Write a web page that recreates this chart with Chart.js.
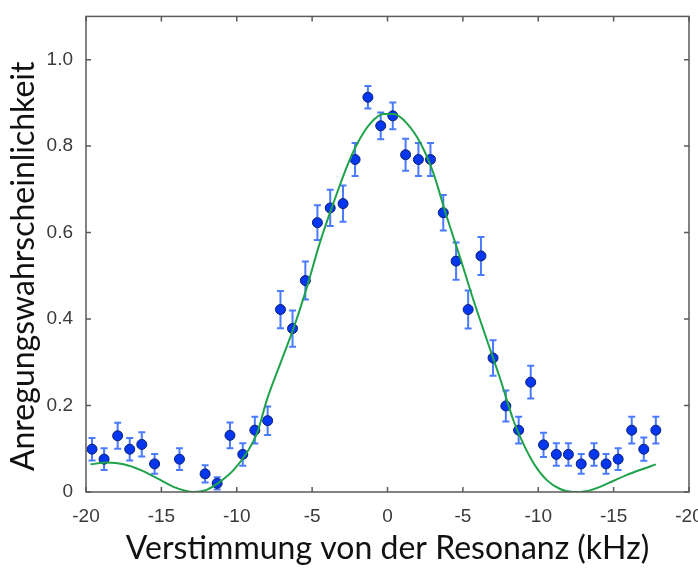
<!DOCTYPE html>
<html>
<head>
<meta charset="utf-8">
<script src="https://cdn.jsdelivr.net/npm/chart.js@4.4.1/dist/chart.umd.min.js"></script>
<style>
    html, body { margin: 0; padding: 0; background: #fff; }
    #wrap { width: 698px; height: 568px; position: relative; }
</style>
</head>
<body>
<div id="wrap"><canvas id="rabiChart"></canvas></div>
<script>
// measured excitation probability vs detuning (kHz)
const detuning = [-19.6, -18.8, -17.9, -17.1, -16.3, -15.45, -13.8, -12.1, -11.3, -10.45, -9.6, -8.8, -7.95, -7.1, -6.3, -5.45,
    -4.65, -3.8, -2.95, -2.15, -1.3, -0.45,
    0.35, 1.2, 2.05, 2.85, 3.7, 4.55, 5.35, 6.2,
    7.0, 7.85, 8.7, 9.5, 10.35, 11.2, 12.0, 12.85, 13.7, 14.5, 15.3, 16.2, 17.0, 17.8];
const probability = [0.099, 0.076, 0.130, 0.099, 0.110, 0.065, 0.076, 0.042, 0.020, 0.131, 0.087, 0.143, 0.165, 0.422, 0.378, 0.489,
    0.623, 0.657, 0.667, 0.769, 0.913, 0.847,
    0.870, 0.780, 0.769, 0.769, 0.646, 0.534, 0.422, 0.546,
    0.310, 0.199, 0.143, 0.254, 0.109, 0.087, 0.087, 0.065, 0.087, 0.065, 0.076, 0.143, 0.099, 0.143];
const errors = [0.026, 0.025, 0.030, 0.026, 0.028, 0.023, 0.025, 0.020, 0.014, 0.030, 0.026, 0.031, 0.033, 0.043, 0.042, 0.044,
    0.040, 0.042, 0.042, 0.038, 0.026, 0.031,
    0.031, 0.037, 0.038, 0.038, 0.041, 0.043, 0.044, 0.044,
    0.041, 0.036, 0.031, 0.038, 0.028, 0.026, 0.026, 0.023, 0.026, 0.023, 0.025, 0.031, 0.027, 0.031];

// fitted curve
const fitX = [-19.7, -18.6, -17.5, -16.4, -15.3, -14.2, -12.85, -12.0, -11.1, -10.2, -9.3, -8.65, -8.0, -7.1, -6.2, -5.3, -4.5,
    -3.6, -2.7, -2.0, -1.15, -0.25, 0.4, 1.3, 2.2, 3.05, 3.9, 4.8, 5.7, 6.6, 7.5, 8.35, 8.9, 9.7, 10.55, 11.45, 12.3,
    13.2, 14.1, 15.0, 15.85, 16.75, 17.8];
const fitY = [0.064, 0.068, 0.064, 0.051, 0.032, 0.012, 0.0, 0.005, 0.024, 0.051, 0.093, 0.136, 0.213, 0.298, 0.382, 0.479, 0.575,
    0.667, 0.752, 0.806, 0.852, 0.874, 0.874, 0.852, 0.806, 0.737, 0.640, 0.544, 0.444, 0.351, 0.259, 0.166, 0.120, 0.066, 0.028, 0.007, 0.0,
    0.002, 0.012, 0.026, 0.039, 0.051, 0.064];

const xTicks = [-20, -15, -10, -5, 0, 5, 10, 15, 20];
const yTicks = [0, 0.2, 0.4, 0.6, 0.8, 1.0];

const points = detuning.map((x, i) => ({ x: x, y: probability[i] }));
const fitPoints = fitX.map((x, i) => ({ x: x, y: fitY[i] }));

const errorBars = {
    id: 'errorBars',
    beforeDatasetsDraw(chart) {
        const ctx = chart.ctx;
        const xs = chart.scales.x, ys = chart.scales.y;
        ctx.save();
        ctx.strokeStyle = '#4a7bff';
        ctx.lineWidth = 2;
        detuning.forEach((x, i) => {
            const px = xs.getPixelForValue(x);
            const top = ys.getPixelForValue(probability[i] + errors[i]);
            const bot = ys.getPixelForValue(probability[i] - errors[i]);
            ctx.beginPath();
            ctx.moveTo(px, top); ctx.lineTo(px, bot);
            ctx.moveTo(px - 3.5, top); ctx.lineTo(px + 3.5, top);
            ctx.moveTo(px - 3.5, bot); ctx.lineTo(px + 3.5, bot);
            ctx.stroke();
        });
        ctx.restore();
    }
};

// box round the plot with inward ticks, matlab style
const frame = {
    id: 'frame',
    afterDraw(chart) {
        const ctx = chart.ctx;
        const a = chart.chartArea;
        const xs = chart.scales.x, ys = chart.scales.y;
        ctx.save();
        ctx.strokeStyle = '#5a5a5a';
        ctx.lineWidth = 1.5;
        ctx.strokeRect(a.left, a.top, a.right - a.left, a.bottom - a.top);
        ctx.beginPath();
        xTicks.forEach(v => {
            const px = xs.getPixelForValue(v);
            ctx.moveTo(px, a.bottom); ctx.lineTo(px, a.bottom - 5);
            ctx.moveTo(px, a.top); ctx.lineTo(px, a.top + 5);
        });
        yTicks.forEach(v => {
            const py = ys.getPixelForValue(v);
            ctx.moveTo(a.left, py); ctx.lineTo(a.left + 5, py);
            ctx.moveTo(a.right, py); ctx.lineTo(a.right - 5, py);
        });
        ctx.stroke();
        ctx.restore();
    }
};

new Chart(document.getElementById('rabiChart').getContext('2d'), {
    type: 'scatter',
    data: {
        datasets: [{
            type: 'line',
            data: fitPoints,
            borderColor: '#1ea34a',
            borderWidth: 2,
            pointRadius: 0,
            cubicInterpolationMode: 'monotone',
            fill: false
        }, {
            data: points,
            backgroundColor: '#0637f0',
            borderColor: '#0b1f6e',
            borderWidth: 1,
            pointRadius: 5
        }]
    },
    options: {
        responsive: true,
        maintainAspectRatio: false,
        animation: false,
        layout: { padding: { top: 15, right: 9 } },
        plugins: { legend: { display: false }, tooltip: { enabled: false } },
        scales: {
            x: {
                type: 'linear',
                min: -20,
                max: 20,
                grid: { display: false },
                border: { display: false },
                afterBuildTicks: s => { s.ticks = xTicks.map(v => ({ value: v })); },
                afterFit: s => { s.height = 76; s.paddingRight = 0; s.paddingLeft = 0; },
                ticks: {
                    padding: 5,
                    color: '#3a3a3a',
                    font: { family: 'Liberation Sans', size: 19 },
                    callback: v => v === 0 ? '0' : '-' + Math.abs(v)
                },
                title: {
                    display: true,
                    text: 'Verstimmung von der Resonanz (kHz)',
                    color: '#111',
                    font: { family: 'Lato', size: 32 },
                    padding: { top: 0, bottom: 0 }
                }
            },
            y: {
                min: 0,
                max: 1.1,
                grid: { display: false },
                border: { display: false },
                afterBuildTicks: s => { s.ticks = yTicks.map(v => ({ value: v })); },
                afterFit: s => { s.width = 86; },
                ticks: {
                    padding: 5,
                    color: '#3a3a3a',
                    font: { family: 'Liberation Sans', size: 19 },
                    callback: v => v === 0 ? '0' : v.toFixed(1)
                },
                title: {
                    display: true,
                    // trailing spaces nudge the rotated title down a bit
                    text: 'Anregungswahrscheinlichkeit\u2002 ',
                    color: '#111',
                    font: { family: 'Lato', size: 32 },
                    padding: { bottom: 0 }
                }
            }
        }
    },
    plugins: [errorBars, frame]
});
</script>
</body>
</html>
